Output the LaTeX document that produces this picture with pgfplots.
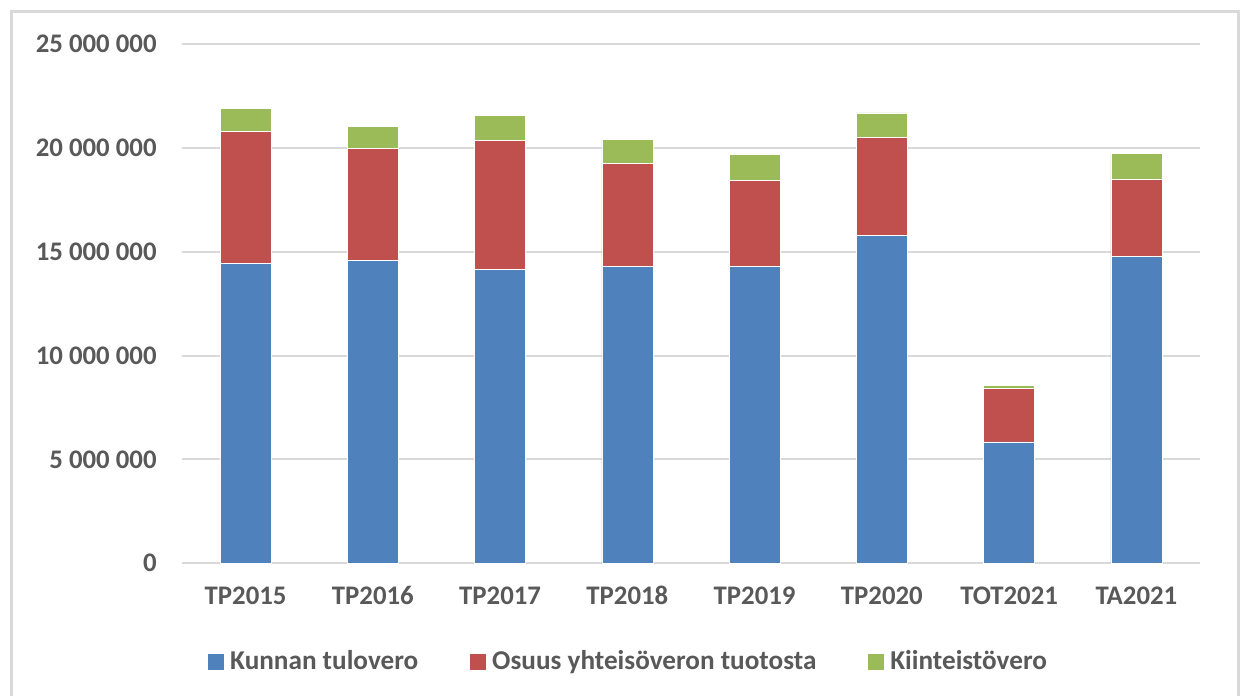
\documentclass[border=0pt]{standalone}
\usepackage{pgfplots}
\pgfplotsset{compat=1.18}
\usepackage{fontspec}
\setmainfont{Carlito}
\definecolor{cblue}{HTML}{4F81BD}
\definecolor{cred}{HTML}{C0504D}
\definecolor{cgreen}{HTML}{9BBB59}
\definecolor{cgrid}{HTML}{D9D9D9}
\definecolor{ctext}{HTML}{595959}
\begin{document}
\begin{tikzpicture}
\useasboundingbox (0,0) rectangle (620pt,347.5pt);
\fill[white] (0,0) rectangle (620pt,347.5pt);
\draw[cgrid, line width=1.5pt] (5.75pt,-5pt) -- (5.75pt,341.5pt) -- (619.25pt,341.5pt) -- (619.25pt,-5pt);
\begin{axis}[
  at={(91pt,65.85pt)}, anchor=south west,
  scale only axis, width=509pt, height=259.5pt,
  ybar stacked, bar width=25.5pt,
  xmin=-0.5, xmax=7.5, ymin=0, ymax=25000000,
  enlargelimits=false,
  axis line style={draw=none},
  major tick length=0pt,
  ymajorgrids, grid style={cgrid, line width=1pt},
  xtick={0,1,2,3,4,5,6,7},
  xticklabels={TP2015,TP2016,TP2017,TP2018,TP2019,TP2020,TOT2021,TA2021},
  ytick={0,5000000,10000000,15000000,20000000,25000000},
  yticklabels={0,5~000~000,10~000~000,15~000~000,20~000~000,25~000~000},
  scaled y ticks=false,
  ticklabel style={font=\fontsize{13.4}{15}\selectfont\bfseries, text=ctext},
  yticklabel style={anchor=east, inner xsep=0pt, xshift=-12.5pt},
  xticklabel style={anchor=base, inner sep=0pt, yshift=-20.85pt},
  legend columns=3,
  legend style={draw=none, at={(0.4406,-0.1896)}, anchor=center,
    font=\fontsize{13.6}{15}\selectfont\bfseries, text=ctext,
    column sep=0pt,
    /tikz/every even column/.append style={column sep=23pt},
    nodes={inner xsep=3pt, inner ysep=1pt}},
  legend image code/.code={\fill[#1, draw=none] (0pt,-4pt) rectangle (8pt,4pt);},
]
\addplot[fill=cblue, draw=white, line width=0.3pt] coordinates {(0,14440000) (1,14580000) (2,14150000) (3,14310000) (4,14310000) (5,15780000) (6,5850000) (7,14800000)};
\addplot[fill=cred, draw=white, line width=0.3pt] coordinates {(0,6360000) (1,5420000) (2,6220000) (3,4940000) (4,4140000) (5,4740000) (6,2570000) (7,3710000)};
\addplot[fill=cgreen, draw=white, line width=0.3pt] coordinates {(0,1120000) (1,1040000) (2,1190000) (3,1180000) (4,1250000) (5,1180000) (6,160000) (7,1250000)};
\legend{Kunnan tulovero, Osuus yhteisöveron tuotosta, Kiinteistövero}
\end{axis}
\end{tikzpicture}
\end{document}
